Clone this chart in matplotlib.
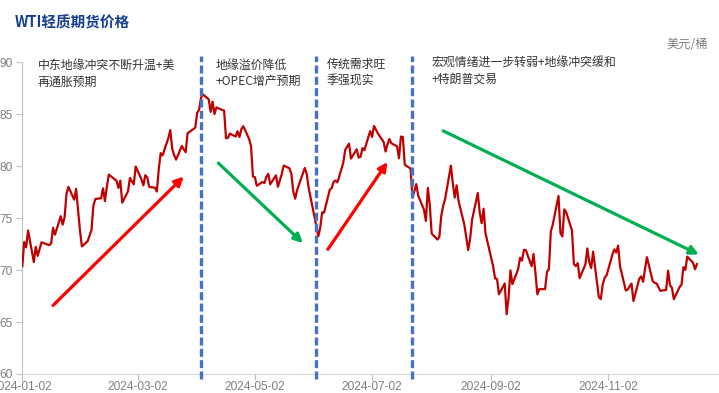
import numpy as np
import pandas as pd
import matplotlib
matplotlib.use("Agg")
import matplotlib.pyplot as plt
import matplotlib.dates as mdates

plt.rcParams['font.family'] = ['Noto Sans CJK SC', 'DejaVu Sans']

# WTI front-month settlement, 2024, one list per month
months = ["2024-01", "2024-02", "2024-03", "2024-04", "2024-05", "2024-06",
          "2024-07", "2024-08", "2024-09", "2024-10", "2024-11", "2024-12"]
days = [
    [2, 3, 4, 5, 8, 9, 10, 11, 12, 16, 17, 18, 19, 22, 23, 24, 25, 26, 29, 30, 31],
    [1, 2, 5, 6, 7, 8, 9, 12, 13, 14, 15, 16, 20, 21, 22, 23, 26, 27, 28, 29],
    [1, 4, 5, 6, 7, 8, 11, 12, 13, 14, 15, 18, 19, 20, 21, 22, 25, 26, 27, 28],
    [1, 2, 3, 4, 5, 8, 9, 10, 11, 12, 15, 16, 17, 18, 19, 22, 23, 24, 25, 26, 29, 30],
    [1, 2, 3, 6, 7, 8, 9, 10, 13, 14, 15, 16, 17, 20, 21, 22, 23, 24, 28, 29, 30, 31],
    [3, 4, 5, 6, 7, 10, 11, 12, 13, 14, 17, 18, 20, 21, 24, 25, 26, 27, 28],
    [1, 2, 3, 5, 8, 9, 10, 11, 12, 15, 16, 17, 18, 19, 22, 23, 24, 25, 26, 29, 30, 31],
    [1, 2, 5, 6, 7, 8, 9, 12, 13, 14, 15, 16, 19, 20, 21, 22, 23, 26, 27, 28, 29, 30],
    [3, 4, 5, 6, 9, 10, 11, 12, 13, 16, 17, 18, 19, 20, 23, 24, 25, 26, 27, 30],
    [1, 2, 3, 4, 7, 8, 9, 10, 11, 14, 15, 16, 17, 18, 21, 22, 23, 24, 25, 28, 29, 30, 31],
    [1, 4, 5, 6, 7, 8, 11, 12, 13, 14, 15, 18, 19, 20, 21, 22, 25, 26, 27, 29],
    [2, 3, 4, 5, 6, 9, 10, 11, 12, 13, 16, 17, 18],
]
prices = [
    [70.38, 72.70, 72.19, 73.81, 70.77, 72.24, 71.37, 72.02, 72.68, 72.40, 72.56,
     74.08, 73.41, 75.19, 74.37, 75.09, 77.36, 78.01, 76.78, 77.82, 75.85],
    [73.82, 72.28, 72.78, 73.31, 73.86, 76.22, 76.84, 76.92, 77.87, 76.64, 78.03,
     79.19, 78.60, 77.91, 78.61, 76.49, 77.58, 78.87, 78.54, 78.26],
    [79.97, 78.74, 78.15, 79.13, 78.93, 78.01, 77.93, 77.56, 79.72, 81.26, 81.04,
     82.72, 83.47, 81.68, 81.07, 80.63, 81.95, 81.62, 81.35, 83.17],
    [83.71, 85.15, 85.43, 86.59, 86.91, 86.43, 85.23, 86.21, 85.02, 85.66, 85.41,
     85.36, 82.69, 82.73, 83.14, 82.85, 83.36, 82.81, 83.57, 83.85, 82.63, 81.93],
    [79.00, 78.95, 78.11, 78.48, 78.38, 78.99, 79.26, 78.26, 79.12, 78.02, 78.63,
     79.23, 80.06, 79.80, 79.26, 77.57, 76.87, 77.72, 79.83, 79.23, 77.91, 76.99],
    [74.22, 73.25, 74.07, 75.55, 75.53, 77.74, 77.90, 78.50, 78.62, 78.45, 80.33,
     81.57, 82.17, 80.73, 81.63, 80.83, 80.90, 81.74, 81.54],
    [83.38, 82.81, 83.88, 83.16, 82.33, 81.41, 82.10, 82.62, 82.21, 81.91, 80.76,
     82.85, 82.82, 80.13, 79.78, 76.96, 77.59, 78.28, 77.16, 75.81, 74.73, 77.91],
    [76.31, 73.52, 72.94, 73.20, 75.23, 76.19, 76.84, 80.06, 78.35, 76.98, 78.16,
     76.65, 74.37, 73.17, 71.93, 73.01, 74.83, 77.42, 75.53, 74.52, 75.91, 73.55],
    [70.34, 69.20, 69.15, 67.67, 68.71, 65.75, 67.31, 69.97, 68.65, 70.09, 71.19,
     70.91, 71.95, 71.92, 70.37, 71.56, 69.69, 67.67, 68.18, 68.17],
    [69.83, 70.10, 73.71, 74.38, 77.14, 73.57, 73.24, 75.85, 75.56, 73.83, 70.58,
     70.39, 70.67, 69.22, 70.56, 72.09, 70.77, 70.19, 71.78, 67.38, 67.21, 68.61, 69.26],
    [69.49, 71.47, 71.99, 71.69, 72.36, 70.38, 68.04, 68.12, 68.43, 68.70, 67.02,
     69.16, 69.39, 68.87, 70.10, 71.24, 68.94, 68.77, 68.72, 68.00],
    [68.10, 69.94, 68.54, 68.30, 67.20, 68.37, 68.59, 70.29, 70.02, 71.29, 70.71,
     70.08, 70.58],
]

# phase breaks (blue dashed lines)
break_dates = ["2024-04-04", "2024-06-03", "2024-07-23"]

# trend arrows: (start date, start price, end date, end price)
arrow_starts = [("2024-01-18", 66.6), ("2024-04-13", 80.3), ("2024-06-09", 72.0), ("2024-08-08", 83.4)]
arrow_ends = [("2024-03-26", 79.0), ("2024-05-27", 72.6), ("2024-07-10", 80.4), ("2024-12-19", 71.5)]
arrow_colors = ["#FF0000", "#00B050", "#FF0000", "#00B050"]

# phase notes
note_lines = [
    ["中东地缘冲突不断升温+美", "再通胀预期"],
    ["地缘溢价降低", "+OPEC增产预期"],
    ["传统需求旺", "季强现实"],
    ["宏观情绪进一步转弱+地缘冲突缓和", "+特朗普交易"],
]

tick_dates = ["2024-01-02", "2024-03-02", "2024-05-02", "2024-07-02", "2024-09-02", "2024-11-02"]
y_ticks = [60, 65, 70, 75, 80, 85, 90]

W, H = 719, 393


def main():
    dates = []
    for m, dl in zip(months, days):
        dates += [pd.Timestamp(f"{m}-{d:02d}") for d in dl]
    px = [p for pl in prices for p in pl]

    fig = plt.figure(figsize=(W / 100, H / 100), dpi=100)
    ax = fig.add_axes([22.3 / W, (H - 374) / H, (W - 22.3) / W, (374 - 62.3) / H])

    ax.plot(dates, px, color="#C00000", lw=1.6, zorder=3)

    start = pd.Timestamp("2024-01-02")
    ax.set_xlim(start, start + pd.Timedelta(days=362.5))
    ax.set_ylim(60, 90)

    for d in break_dates:
        t = pd.Timestamp(d)
        ln, = ax.plot([t, t], [59.5, 90.6], color="#4472C4", lw=2.4,
                      clip_on=False, zorder=4)
        ln.set_dashes((2.4, 1.0))

    for (sd, sp), (ed, ep), c in zip(arrow_starts, arrow_ends, arrow_colors):
        ax.annotate("", xy=(pd.Timestamp(ed), ep), xytext=(pd.Timestamp(sd), sp),
                    arrowprops=dict(arrowstyle="-|>", color=c, lw=2.3,
                                    mutation_scale=13, shrinkA=0, shrinkB=0),
                    zorder=2)

    ax.set_xticks([pd.Timestamp(d) for d in tick_dates])
    ax.xaxis.set_major_formatter(mdates.DateFormatter("%Y-%m-%d"))
    ax.set_yticks(y_ticks)
    ax.tick_params(axis="both", colors="#BFBFBF", labelcolor="#7F7F7F",
                   labelsize=8.6, length=4, width=0.8)
    ax.tick_params(axis="y", pad=3)
    ax.tick_params(axis="x", pad=1)
    for lab in ax.get_xticklabels() + ax.get_yticklabels():
        lab.set_family("Liberation Sans")
    for s in ["top", "right"]:
        ax.spines[s].set_visible(False)
    ax.spines["left"].set_color("#BFBFBF")
    ax.spines["bottom"].set_color("#D9D9D9")

    # notes
    note_x = [38, 216, 327, 432]
    note_y = [(65, 82), (65, 81.5), (64.5, 81.5), (63.5, 79.5)]
    for lines, x, ys in zip(note_lines, note_x, note_y):
        for txt, y in zip(lines, ys):
            fig.text(x / W, 1 - y / H, txt, fontsize=8.6, color="#333333",
                     ha="left", va="center")

    fig.text(15 / W, 1 - 23 / H, "WTI轻质期货价格", fontsize=10.5, fontweight="bold",
             color="#16408E", ha="left", va="center")
    fig.text(708 / W, 1 - 44 / H, "美元/桶", fontsize=8.8, color="#7F7F7F",
             ha="right", va="center")

    fig.savefig("out.png", dpi=100)


if __name__ == "__main__":
    main()
